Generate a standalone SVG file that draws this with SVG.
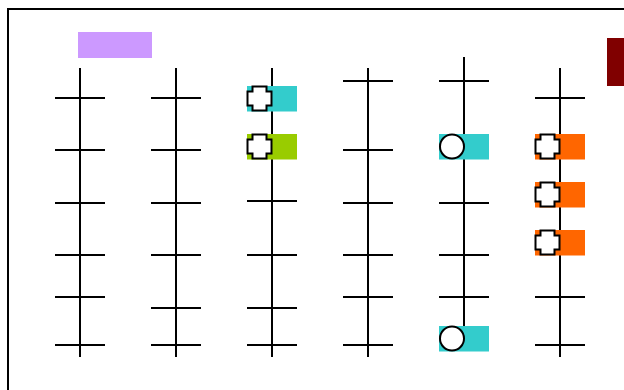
<svg xmlns="http://www.w3.org/2000/svg" width="624" height="390" viewBox="0 0 624 390">
<defs>
<style>
.ln{stroke:#000;stroke-width:2;fill:none}
.tk{stroke:#000;stroke-width:2}
.cross{fill:#fff;stroke:#000;stroke-width:2}
.circ{fill:#fff;stroke:#000;stroke-width:2}
.cyan{fill:#33cccc}
.green{fill:#99cc00}
.orange{fill:#ff6600}
</style>
<path id="cr" class="cross" d="M5.5 0.5 h14 v5 h5 v14 h-5 v5 h-14 v-5 h-5 v-14 h5 z"/>
</defs>
<rect width="624" height="390" fill="#fff"/>
<rect x="8" y="9" width="700" height="500" fill="none" stroke="#000" stroke-width="2"/>
<rect id="legend" x="78" y="32" width="74" height="26" fill="#cc99ff"/>
<rect id="legend2" x="607" y="38" width="40" height="48" fill="#800000"/>
<g id="connectors">
<line class="ln" x1="80" y1="68" x2="80" y2="357"/>
<line class="ln" x1="176" y1="68" x2="176" y2="357"/>
<line class="ln" x1="272" y1="68" x2="272" y2="357"/>
<line class="ln" x1="368" y1="68" x2="368" y2="357"/>
<line class="ln" x1="464" y1="57" x2="464" y2="326"/>
<line class="ln" x1="560" y1="68" x2="560" y2="357"/>
</g>
<g id="col1">
<line class="tk" x1="55" y1="98" x2="105" y2="98"/>
<line class="tk" x1="55" y1="150" x2="105" y2="150"/>
<line class="tk" x1="55" y1="203" x2="105" y2="203"/>
<line class="tk" x1="55" y1="255" x2="105" y2="255"/>
<line class="tk" x1="55" y1="297" x2="105" y2="297"/>
<line class="tk" x1="55" y1="345" x2="105" y2="345"/>
</g>
<g id="col2">
<line class="tk" x1="151" y1="98" x2="201" y2="98"/>
<line class="tk" x1="151" y1="150" x2="201" y2="150"/>
<line class="tk" x1="151" y1="203" x2="201" y2="203"/>
<line class="tk" x1="151" y1="255" x2="201" y2="255"/>
<line class="tk" x1="151" y1="308" x2="201" y2="308"/>
<line class="tk" x1="151" y1="345" x2="201" y2="345"/>
</g>
<g id="col3">
<g id="n3a"><rect class="cyan" x="247" y="86" width="50" height="25.5"/><use href="#cr" x="247" y="86"/></g>
<g id="n3b"><rect class="green" x="247" y="134" width="50" height="25.5"/><use href="#cr" x="247" y="134"/></g>
<line class="tk" x1="247" y1="201" x2="297" y2="201"/>
<line class="tk" x1="247" y1="255" x2="297" y2="255"/>
<line class="tk" x1="247" y1="308" x2="297" y2="308"/>
<line class="tk" x1="247" y1="345" x2="297" y2="345"/>
</g>
<g id="col4">
<line class="tk" x1="343" y1="81" x2="393" y2="81"/>
<line class="tk" x1="343" y1="150" x2="393" y2="150"/>
<line class="tk" x1="343" y1="203" x2="393" y2="203"/>
<line class="tk" x1="343" y1="255" x2="393" y2="255"/>
<line class="tk" x1="343" y1="297" x2="393" y2="297"/>
<line class="tk" x1="343" y1="345" x2="393" y2="345"/>
</g>
<g id="col5">
<line class="tk" x1="439" y1="81" x2="489" y2="81"/>
<g id="n5a"><rect class="cyan" x="439" y="134" width="50" height="25.5"/><circle class="circ" cx="452" cy="146.5" r="12"/></g>
<line class="tk" x1="439" y1="203" x2="489" y2="203"/>
<line class="tk" x1="439" y1="255" x2="489" y2="255"/>
<line class="tk" x1="439" y1="297" x2="489" y2="297"/>
<g id="n5b"><rect class="cyan" x="439" y="326" width="50" height="25.5"/><circle class="circ" cx="452" cy="338.5" r="12"/></g>
</g>
<g id="col6">
<line class="tk" x1="535" y1="98" x2="585" y2="98"/>
<g id="n6a"><rect class="orange" x="535" y="134" width="50" height="25.5"/><use href="#cr" x="535" y="134"/></g>
<g id="n6b"><rect class="orange" x="535" y="182" width="50" height="25.5"/><use href="#cr" x="535" y="182"/></g>
<g id="n6c"><rect class="orange" x="535" y="230" width="50" height="25.5"/><use href="#cr" x="535" y="230"/></g>
<line class="tk" x1="535" y1="297" x2="585" y2="297"/>
<line class="tk" x1="535" y1="345" x2="585" y2="345"/>
</g>
</svg>
